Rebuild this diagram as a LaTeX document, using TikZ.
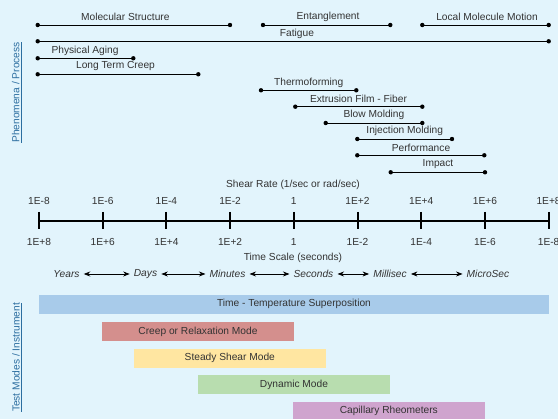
\documentclass[tikz,border=0pt]{standalone}
\usepackage{fontspec}
\setmainfont{Liberation Sans}
\usetikzlibrary{arrows.meta}
\definecolor{bg}{HTML}{E2F4FC}
\definecolor{txt}{HTML}{333333}
\definecolor{sidec}{HTML}{2C6EA0}
\definecolor{barblue}{HTML}{A8CBEA}
\definecolor{barred}{HTML}{D48F8D}
\definecolor{baryellow}{HTML}{FFE6A1}
\definecolor{bargreen}{HTML}{B8DDAF}
\definecolor{barpurple}{HTML}{CFA4CE}
\tikzset{
  lbl/.style={text=txt, font=\fontsize{10.2}{12}\selectfont, inner sep=0pt},
  ilbl/.style={text=txt, font=\fontsize{10.2}{12}\selectfont\itshape, inner sep=0pt},
  seg/.style={line width=0.9pt, black},
  dot/.style={circle, fill=black, inner sep=0pt, minimum size=4.4pt},
  tick/.style={line width=2pt, black},
  axis/.style={line width=2pt, black},
  rng/.style={arrows={Stealth[length=6.5pt,width=5pt]-Stealth[length=6.5pt,width=5pt]}, line width=0.8pt, black, shorten <=4pt, shorten >=4pt},
  side/.style={text=sidec, font=\fontsize{10.2}{12}\selectfont, rotate=90, inner sep=0pt},
  bar/.style={inner sep=0pt, minimum height=18.7pt, text=txt, font=\fontsize{10.2}{12}\selectfont}
}
\begin{document}
\begin{tikzpicture}[x=1pt,y=-1pt]
\fill[bg] (0,0) rectangle (558,419);
\useasboundingbox (0,0) rectangle (558,419);

% side labels
\node[side] (sideA) at (16.7,92.5) {\underline{Phenomena / Process}};
\node[side] (sideB) at (17,357.5) {\underline{Test Modes / Instrument}};

% phenomena ranges: name, x1, x2, y, label x
\foreach \nm/\xa/\xb/\yy/\lx/\tx in {
  ms/37.7/230/25/125.3/Molecular Structure,
  en/263/390.3/25/328/Entanglement,
  lm/422.3/548.7/25/487/Local Molecule Motion,
  fa/37.7/548.7/41.3/297/Fatigue,
  pa/37.7/133.3/58.3/85/Physical Aging,
  lc/37.7/198.3/74.3/115.5/Long Term Creep,
  th/261/356.3/90.3/308.7/Thermoforming,
  ex/295.3/422.3/106.7/358.5/Extrusion Film - Fiber,
  bm/325.7/422.3/123/374/Blow Molding,
  im/357.3/452/139/404.7/Injection Molding,
  pf/357.3/484.3/155.3/421/Performance,
  ip/390.7/485/172.3/438/Impact}{
  \coordinate (\nm-a) at (\xa,\yy);
  \coordinate (\nm-b) at (\xb,\yy);
  \draw[seg] (\nm-a) -- (\nm-b);
  \node[dot] at (\nm-a) {};
  \node[dot] at (\nm-b) {};
  \node[lbl] (\nm-l) at (\lx,\yy-7.8) {\tx};
}

% axis
\foreach \i/\top/\bot in {0/1E-8/1E+8,1/1E-6/1E+6,2/1E-4/1E+4,3/1E-2/1E+2,4/1/1,5/1E+2/1E-2,6/1E+4/1E-4,7/1E+6/1E-6,8/1E+8/1E-8}{
  \coordinate (t\i) at ({39+63.7*\i},221);
  \draw[tick] ({39+63.7*\i},212) -- ({39+63.7*\i},229.5);
  \node[lbl] (top\i) at ({39+63.7*\i},200.7) {\top};
  \node[lbl] (bot\i) at ({39+63.7*\i},241.7) {\bot};
}
\draw[axis] (t0) -- (t8);
\node[lbl] (shear) at (293,185) {Shear Rate (1/sec or rad/sec)};
\node[lbl] (tscale) at (293,257.5) {Time Scale (seconds)};

% time words
\node[ilbl] (years) at (66.5,274) {Years};
\node[ilbl] (days) at (145.5,274) {Days};
\node[ilbl] (minutes) at (227.5,274) {Minutes};
\node[ilbl] (seconds) at (313.5,274) {Seconds};
\node[ilbl] (millisec) at (390,274) {Millisec};
\node[ilbl] (microsec) at (488,274) {MicroSec};
\draw[rng] (years) -- (days);
\draw[rng] (days) -- (minutes);
\draw[rng] (minutes) -- (seconds);
\draw[rng] (seconds) -- (millisec);
\draw[rng] (millisec) -- (microsec);

% bars
\node[bar, fill=barblue, minimum width=510pt] (ttsp) at (294,304.3) {Time - Temperature Superposition};
\node[bar, fill=barred, minimum width=192pt] (creep) at (198,331.5) {Creep or Relaxation Mode};
\node[bar, fill=baryellow, minimum width=191.7pt] (steady) at (229.8,358.3) {Steady Shear Mode};
\node[bar, fill=bargreen, minimum width=191.4pt] (dyn) at (294,384.5) {Dynamic Mode};
\node[bar, fill=barpurple, minimum width=191.7pt] (cap) at (388.8,411.3) {Capillary Rheometers};
\end{tikzpicture}
\end{document}
